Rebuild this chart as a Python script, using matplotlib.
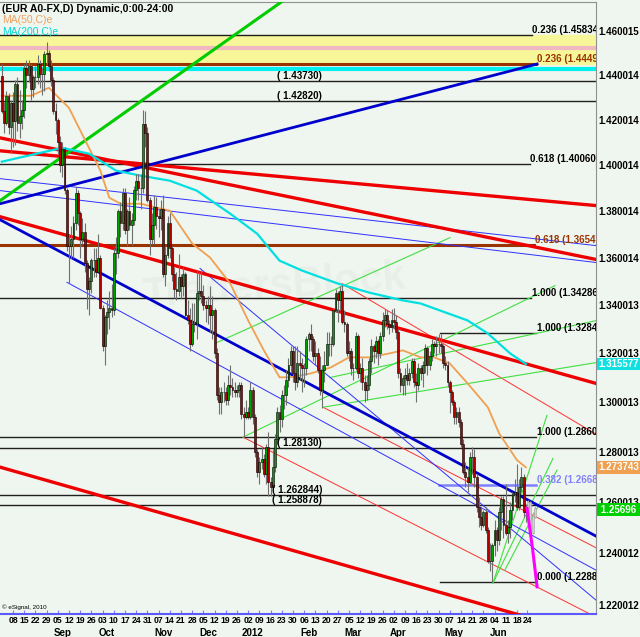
import numpy as np
import pandas as pd
import matplotlib
matplotlib.use('Agg')
import matplotlib.pyplot as plt
import matplotlib.transforms as mtransforms
from matplotlib.ticker import FixedLocator, NullLocator

plt.rcParams['font.family'] = ['Liberation Sans', 'DejaVu Sans']

# EUR/USD daily bars, one per weekday from 1 Aug 2011 to 22 Jun 2012
dates = pd.bdate_range('2011-08-01', '2012-06-22')
first_open = 1.4395
closes = [
    1.4240, 1.4185, 1.4305, 1.4168, 1.4275, 1.4195, 1.4362, 1.4185, 1.4218, 1.4242, 1.4431, 1.4399, 1.4442, 1.4339, 1.4390, 1.4393, 1.4450, 1.4404, 1.4404, 1.4496, 1.4500, 1.4441, 1.4377,
    1.4240, 1.4200, 1.4100, 1.4000, 1.4070, 1.3890, 1.3650, 1.3650, 1.3680, 1.3750, 1.3880, 1.3790, 1.3680, 1.3710, 1.3580, 1.3470, 1.3500, 1.3590, 1.3590, 1.3540, 1.3600, 1.3390,
    1.3230, 1.3350, 1.3370, 1.3390, 1.3380, 1.3620, 1.3620, 1.3800, 1.3750, 1.3880, 1.3720, 1.3800, 1.3740, 1.3760, 1.3890, 1.3930, 1.3900, 1.3900, 1.4180, 1.4140, 1.3850,
    1.3680, 1.3740, 1.3820, 1.3780, 1.3770, 1.3810, 1.3530, 1.3610, 1.3750, 1.3640, 1.3530, 1.3470, 1.3460, 1.3520, 1.3480, 1.3530, 1.3360, 1.3340, 1.3240, 1.3320, 1.3320, 1.3450,
    1.3460, 1.3440, 1.3400, 1.3390, 1.3400, 1.3360, 1.3380, 1.3200, 1.3030, 1.3000, 1.3040, 1.3040, 1.3010, 1.3070, 1.3060, 1.3050, 1.3040, 1.3050, 1.3070, 1.2950, 1.2940, 1.2960,
    1.2940, 1.3050, 1.2940, 1.2800, 1.2720, 1.2760, 1.2770, 1.2710, 1.2820, 1.2680, 1.2660, 1.2740, 1.2850, 1.2960, 1.2930, 1.3030, 1.3030, 1.3090, 1.3150, 1.3210, 1.3120, 1.3080,
    1.3160, 1.3150, 1.3140, 1.3140, 1.3260, 1.3280, 1.3260, 1.3190, 1.3200, 1.3130, 1.3050, 1.3130, 1.3150, 1.3240, 1.3240, 1.3240, 1.3380, 1.3450, 1.3420, 1.3460, 1.3330,
    1.3320, 1.3200, 1.3210, 1.3140, 1.3140, 1.3270, 1.3120, 1.3140, 1.3080, 1.3050, 1.3070, 1.3170, 1.3230, 1.3210, 1.3250, 1.3200, 1.3270, 1.3340, 1.3360, 1.3320, 1.3310, 1.3340,
    1.3330, 1.3290, 1.3120, 1.3070, 1.3100, 1.3110, 1.3090, 1.3120, 1.3170, 1.3080, 1.3070, 1.3140, 1.3120, 1.3150, 1.3220, 1.3150, 1.3190, 1.3240, 1.3230, 1.3240, 1.3240,
    1.3230, 1.3160, 1.3150, 1.3080, 1.3040, 1.3000, 1.2940, 1.2960, 1.2920, 1.2830, 1.2720, 1.2700, 1.2680, 1.2780, 1.2780, 1.2700, 1.2580, 1.2540, 1.2510, 1.2560, 1.2490, 1.2370, 1.2370,
    1.2430, 1.2490, 1.2450, 1.2560, 1.2610, 1.2510, 1.2480, 1.2500, 1.2570, 1.2630, 1.2640, 1.2580, 1.2660, 1.2700, 1.2560, 1.25696,
]
highs = [
    1.4450, 1.4280, 1.4330, 1.4320, 1.4290, 1.4325, 1.4380, 1.4390, 1.4335, 1.4290, 1.4450, 1.4470, 1.4470, 1.4450, 1.4400, 1.4440, 1.4490, 1.4470, 1.4430, 1.4510, 1.4548, 1.4515, 1.4470,
    1.4390, 1.4275, 1.4210, 1.4130, 1.4100, 1.4080, 1.3900, 1.3700, 1.3735, 1.3780, 1.3905, 1.3890, 1.3800, 1.3770, 1.3750, 1.3590, 1.3520, 1.3600, 1.3640, 1.3640, 1.3700, 1.3610,
    1.3400, 1.3360, 1.3420, 1.3460, 1.3490, 1.3640, 1.3690, 1.3810, 1.3840, 1.3900, 1.3900, 1.3810, 1.3860, 1.3790, 1.3910, 1.3960, 1.3960, 1.3960, 1.4245, 1.4240, 1.4170,
    1.3860, 1.3790, 1.3870, 1.3860, 1.3810, 1.3850, 1.3870, 1.3650, 1.3780, 1.3790, 1.3650, 1.3560, 1.3540, 1.3615, 1.3530, 1.3560, 1.3540, 1.3420, 1.3390, 1.3410, 1.3410, 1.3550,
    1.3540, 1.3550, 1.3485, 1.3420, 1.3440, 1.3480, 1.3440, 1.3390, 1.3220, 1.3060, 1.3060, 1.3080, 1.3060, 1.3110, 1.3150, 1.3100, 1.3080, 1.3070, 1.3080, 1.3080, 1.2980, 1.3010,
    1.2980, 1.3080, 1.3060, 1.2950, 1.2810, 1.2780, 1.2820, 1.2790, 1.2830, 1.2880, 1.2700, 1.2810, 1.2870, 1.2980, 1.2990, 1.3050, 1.3070, 1.3130, 1.3180, 1.3230, 1.3230, 1.3230,
    1.3230, 1.3210, 1.3180, 1.3160, 1.3270, 1.3290, 1.3320, 1.3270, 1.3250, 1.3220, 1.3190, 1.3150, 1.3210, 1.3290, 1.3290, 1.3270, 1.3390, 1.3470, 1.3460, 1.3480, 1.3485,
    1.3380, 1.3330, 1.3250, 1.3220, 1.3160, 1.3290, 1.3280, 1.3160, 1.3180, 1.3110, 1.3110, 1.3180, 1.3260, 1.3240, 1.3270, 1.3260, 1.3290, 1.3370, 1.3385, 1.3380, 1.3340, 1.3385,
    1.3390, 1.3360, 1.3300, 1.3140, 1.3110, 1.3140, 1.3160, 1.3140, 1.3180, 1.3180, 1.3120, 1.3160, 1.3150, 1.3170, 1.3240, 1.3230, 1.3210, 1.3260, 1.3250, 1.3270, 1.3280,
    1.3280, 1.3240, 1.3190, 1.3170, 1.3090, 1.3050, 1.3010, 1.2980, 1.2980, 1.2930, 1.2850, 1.2760, 1.2740, 1.2800, 1.2820, 1.2810, 1.2710, 1.2620, 1.2580, 1.2570, 1.2580, 1.2500, 1.2440,
    1.2440, 1.2530, 1.2500, 1.2580, 1.2625, 1.2625, 1.2670, 1.2530, 1.2600, 1.2640, 1.2690, 1.2750, 1.2690, 1.2740, 1.2710, 1.2590,
]
lows = [
    1.4230, 1.4140, 1.4175, 1.4135, 1.4053, 1.4080, 1.4090, 1.4150, 1.4120, 1.4160, 1.4210, 1.4340, 1.4370, 1.4290, 1.4300, 1.4340, 1.4360, 1.4340, 1.4310, 1.4330, 1.4450, 1.4420, 1.4350,
    1.4225, 1.4135, 1.4050, 1.3970, 1.3950, 1.3875, 1.3630, 1.3495, 1.3600, 1.3600, 1.3720, 1.3740, 1.3600, 1.3660, 1.3540, 1.3385, 1.3360, 1.3450, 1.3520, 1.3520, 1.3540, 1.3385,
    1.3210, 1.3150, 1.3280, 1.3300, 1.3350, 1.3360, 1.3530, 1.3600, 1.3690, 1.3720, 1.3700, 1.3650, 1.3720, 1.3655, 1.3740, 1.3850, 1.3850, 1.3810, 1.3880, 1.4080, 1.3840,
    1.3610, 1.3660, 1.3660, 1.3725, 1.3690, 1.3720, 1.3520, 1.3480, 1.3600, 1.3600, 1.3500, 1.3430, 1.3420, 1.3440, 1.3430, 1.3440, 1.3350, 1.3320, 1.3210, 1.3230, 1.3290, 1.3260,
    1.3420, 1.3410, 1.3380, 1.3330, 1.3320, 1.3290, 1.3260, 1.3180, 1.3010, 1.2950, 1.2950, 1.3000, 1.2990, 1.2990, 1.3030, 1.3020, 1.3020, 1.3020, 1.3020, 1.2930, 1.2860, 1.2930,
    1.2930, 1.2930, 1.2910, 1.2780, 1.2700, 1.2670, 1.2730, 1.2700, 1.2670, 1.2625, 1.2625, 1.2640, 1.2720, 1.2830, 1.2880, 1.2900, 1.2970, 1.2990, 1.3060, 1.3120, 1.3080, 1.3050,
    1.3060, 1.3090, 1.3040, 1.3060, 1.3110, 1.3210, 1.3210, 1.3170, 1.3150, 1.3120, 1.3030, 1.2975, 1.3080, 1.3150, 1.3190, 1.3190, 1.3230, 1.3370, 1.3330, 1.3380, 1.3320,
    1.3290, 1.3190, 1.3170, 1.3110, 1.3090, 1.3130, 1.3100, 1.3080, 1.3050, 1.3000, 1.3010, 1.3050, 1.3120, 1.3160, 1.3180, 1.3150, 1.3180, 1.3250, 1.3310, 1.3300, 1.3280, 1.3290,
    1.3300, 1.3260, 1.3100, 1.3040, 1.3030, 1.3030, 1.3070, 1.3070, 1.3100, 1.3060, 1.3000, 1.3050, 1.3090, 1.3060, 1.3120, 1.3110, 1.3130, 1.3170, 1.3200, 1.3190, 1.3200,
    1.3200, 1.3140, 1.3130, 1.3060, 1.2955, 1.2990, 1.2910, 1.2910, 1.2900, 1.2820, 1.2710, 1.2660, 1.2640, 1.2670, 1.2710, 1.2660, 1.2560, 1.2500, 1.2490, 1.2500, 1.2480, 1.2360, 1.2330,
    1.2288, 1.2390, 1.2410, 1.2430, 1.2490, 1.2460, 1.2470, 1.2440, 1.2460, 1.2530, 1.2600, 1.2570, 1.2570, 1.2640, 1.2540, 1.2520,
]

# projected (grey) bars and the magenta forecast path after the last bar
proj_days = [235, 236, 237, 238]
proj_open = [1.2575, 1.2600, 1.2480, 1.2540]
proj_close = [1.2600, 1.2480, 1.2545, 1.2575]
proj_high = [1.2608, 1.2605, 1.2560, 1.2585]
proj_low = [1.2570, 1.2476, 1.2475, 1.2535]
fc_days = [234.5, 237.0, 239.0]
fc_price = [1.2575, 1.2415, 1.2270]

# moving averages (trading-day index, price)
ma50_days = [0, 13, 21, 30, 38, 44, 48, 53, 62, 75, 85, 93, 102, 110, 117, 124, 129, 138, 147, 155, 164, 173, 179, 187, 193, 200, 208, 217, 222, 230, 234]
ma50_vals = [1.4307, 1.4307, 1.4343, 1.4253, 1.4094, 1.3976, 1.3858, 1.3832, 1.3832, 1.3802, 1.3661, 1.3601, 1.3491, 1.3336, 1.3212, 1.3101, 1.3101, 1.3117,
             1.3142, 1.3183, 1.3183, 1.3199, 1.3212, 1.3183, 1.3183, 1.3158, 1.3076, 1.2979, 1.2874, 1.2766, 1.27374]
ma200_days = [0, 27, 39, 51, 62, 75, 87, 102, 114, 124, 134, 150, 164, 179, 187, 208, 217, 227, 234]
ma200_vals = [1.4015, 1.4076, 1.4050, 1.3976, 1.3954, 1.3932, 1.3889, 1.3789, 1.3703, 1.3588, 1.3546, 1.3491, 1.3453, 1.3420, 1.3407, 1.3336, 1.3282, 1.3199, 1.315577]

# trendlines: (day0, price0, day1, price1)
red_thick = [(-0.8, 1.4063, 265.3, 1.3824), (-0.8, 1.4120, 265.3, 1.3593),
             (-0.8, 1.3776, 265.3, 1.3076), (-0.8, 1.2738, 231.3, 1.2162)]
blue_thick = [(-0.8, 1.3832, 239.0, 1.4450), (-0.8, 1.3763, 265.3, 1.2466)]
green_thick = [(-0.8, 1.3845, 133.0, 1.4793)]
blue_thin = [(-0.8, 1.3941, 265.3, 1.3652), (-0.8, 1.3889, 265.3, 1.3580),
             (88.5, 1.3555, 265.3, 1.2219), (29.1, 1.3496, 265.3, 1.2334)]
red_thin = [(151.9, 1.3491, 265.3, 1.2870), (143.4, 1.2979, 265.7, 1.2419),
            (107.7, 1.2858, 262.6, 1.2166)]
green_thin = [(95.3, 1.3241, 200.1, 1.3686), (107.7, 1.2858, 247.0, 1.3482),
              (143.4, 1.2979, 265.7, 1.3162), (146.5, 1.3100, 265.7, 1.3336),
              (219.3, 1.2284, 243.4, 1.2946), (219.3, 1.2284, 246.1, 1.2773),
              (224.6, 1.2334, 247.9, 1.2726)]

# horizontal levels: price, day0, day1, colour, width, label, label day
levels = [
    (1.45834, -0.8, 236.7, '#202020', 1.0, '0.236 (1.45834)', 236.9),
    (1.4449, -0.8, 238.5, '#993300', 2.2, '0.236 (1.4449)', 239.0),
    (1.4373, -0.8, 265.3, '#202020', 1.0, '( 1.43730)', 122.9),
    (1.4282, -0.8, 265.3, '#202020', 1.0, '( 1.42820)', 122.9),
    (1.4006, -0.8, 235.8, '#202020', 1.0, '0.618 (1.40060)', 236.0),
    (1.3654, -0.8, 237.5, '#993300', 2.2, '0.618 (1.3654)', 238.0),
    (1.34286, -0.8, 236.5, '#202020', 1.0, '1.000 (1.34286)', 236.7),
    (1.3284, 195.6, 238.5, '#202020', 1.0, '1.000 (1.3284)', 239.0),
    (1.2860, -0.8, 238.5, '#202020', 1.0, '1.000 (1.2860)', 239.0),
    (1.2813, -0.8, 265.3, '#202020', 1.0, '( 1.28130)', 122.9),
    (1.2668, 195.2, 238.5, '#8080ff', 1.8, '0.382 (1.2668)', 239.0),
    (1.262844, -0.8, 265.3, '#202020', 1.0, '( 1.262844)', 120.6),
    (1.258878, -0.8, 265.3, '#202020', 1.0, '( 1.258878)', 120.6),
    (1.2288, 195.6, 238.5, '#202020', 1.0, '0.000 (1.2288)', 239.0),
]

right_ticks = [1.460015, 1.440014, 1.420014, 1.400014, 1.380014, 1.360014, 1.340013,
               1.320013, 1.300013, 1.280013, 1.260013, 1.240012, 1.220012]

bg = '#eff5ef'
fig = plt.figure(figsize=(6.40, 6.37), dpi=100, facecolor=bg)
ax = fig.add_axes([0, 23 / 637, 596 / 640, 612 / 637], facecolor=bg)
ax.set_yscale('log')
ax.set_xlim(-0.8, 265.3)
ax.set_ylim(1.2166, 1.4733)

# yellow band, pink and cyan stripes at the top
ax.axhspan(1.4449, 1.45834, color='#f7f79a', zorder=0)
ax.axhline(1.45206, color='#f0b8c0', lw=3, zorder=1)
ax.axhline(1.44256, color='#00f0f0', lw=3, zorder=1)

for p, d0, d1, col, lw, lab, ld in levels:
    ax.plot([d0, d1], [p, p], color=col, lw=lw, zorder=2)
    tcol = col if col != '#202020' else 'black'
    ax.text(ld, p, lab, color=tcol, fontsize=7, fontweight='bold', va='bottom', ha='left', clip_on=True, zorder=6)

for d0, p0, d1, p1 in red_thin:
    ax.plot([d0, d1], [p0, p1], color='#ff3030', lw=0.7, zorder=2)
for d0, p0, d1, p1 in green_thin:
    ax.plot([d0, d1], [p0, p1], color='#40e040', lw=0.8, zorder=2)
for d0, p0, d1, p1 in blue_thin:
    ax.plot([d0, d1], [p0, p1], color='#3030ff', lw=0.7, zorder=2)
for d0, p0, d1, p1 in red_thick:
    ax.plot([d0, d1], [p0, p1], color='#ee0000', lw=2.4, zorder=3)
for d0, p0, d1, p1 in blue_thick:
    ax.plot([d0, d1], [p0, p1], color='#0000cc', lw=2.0, zorder=3)
for d0, p0, d1, p1 in green_thick:
    ax.plot([d0, d1], [p0, p1], color='#00cc00', lw=2.2, zorder=3)

ax.plot(ma50_days, ma50_vals, color='#f0a050', lw=1.3, zorder=3)
ax.plot(ma200_days, ma200_vals, color='#00e0e0', lw=1.6, zorder=3)

# candlesticks
x = np.arange(len(dates))
closes = np.array(closes)
opens = np.concatenate([[first_open], closes[:-1]])
up = closes >= opens
ax.vlines(x, lows, highs, color='#707070', lw=0.8, zorder=4)
ax.bar(x[up], closes[up] - opens[up], bottom=opens[up], width=0.85, color='#00a000', edgecolor='black', lw=0.4, zorder=5)
ax.bar(x[~up], opens[~up] - closes[~up], bottom=closes[~up], width=0.85, color='#b00000', edgecolor='black', lw=0.4, zorder=5)

pd_ = np.array(proj_days)
po, pc = np.array(proj_open), np.array(proj_close)
ax.vlines(pd_, proj_low, proj_high, color='#b0b0b0', lw=0.8, zorder=4)
ax.bar(pd_, np.abs(pc - po), bottom=np.minimum(po, pc), width=0.85, color='#d0d0d0', edgecolor='#a0a0a0', lw=0.4, zorder=5)
ax.plot(fc_days, fc_price, color='#ff00ff', lw=2.2, zorder=6)

# watermark
ax.text(0.46, 0.535, 'TradersBlock', transform=ax.transAxes, fontsize=30, fontweight='bold',
        color='#dfe8df', alpha=0.4, rotation=4, ha='center', va='center', zorder=1)

# axes look
ax.spines['left'].set_visible(False)
ax.spines['top'].set_color('#909090')
ax.spines['right'].set_color('#909090')
ax.spines['bottom'].set_color('#5a5aff')
ax.spines['bottom'].set_linewidth(1.5)

ax.yaxis.set_major_locator(FixedLocator(right_ticks))
ax.yaxis.set_minor_locator(NullLocator())
ax.set_yticklabels([f'{v:.6f}' for v in right_ticks])
ax.yaxis.tick_right()
ax.tick_params(axis='y', length=0, pad=2, labelsize=7)
for t in ax.get_yticklabels():
    t.set_fontweight('bold')

mondays = [i for i, d in enumerate(dates) if d.weekday() == 0 and i >= 3]
day_labels = [dates[i].strftime('%d') for i in mondays]
mondays.append(234.6)
day_labels.append('24')
ax.xaxis.set_major_locator(FixedLocator(mondays))
ax.xaxis.set_minor_locator(NullLocator())
ax.set_xticklabels(day_labels)
ax.tick_params(axis='x', length=3, direction='in', color='#8080ff', pad=1.5, labelsize=6.2)
for t in ax.get_xticklabels():
    t.set_fontweight('bold')

# month names under the first Monday of each month
month_pos = []
month_lab = []
seen = set()
for i in mondays[:-1]:
    d = dates[i]
    if (d.year, d.month) not in seen:
        seen.add((d.year, d.month))
        if d.month != 8:
            month_pos.append(i + 2)
            month_lab.append('2012' if d.month == 1 else d.strftime('%b'))
tr = mtransforms.blended_transform_factory(ax.transData, fig.transFigure)
for mp, ml in zip(month_pos, month_lab):
    ax.text(mp, 9 / 637, ml, transform=tr, fontsize=7, fontweight='bold', ha='center', va='top')

# last-value boxes on the price scale
tr_y = mtransforms.blended_transform_factory(ax.transAxes, ax.transData)
for val, txt, col in [(1.315577, '1.315577', '#10e0e0'), (1.273743, '1.273743', '#f0a050'), (1.25696, ' 1.25696 ', '#00d000')]:
    ax.text(1.004, val, txt, transform=tr_y, fontsize=7, fontweight='bold', color='white', va='center', ha='left',
            bbox=dict(boxstyle='square,pad=0.15', fc=col, ec='none'), clip_on=False, zorder=10)

# header
ax.text(0.004, 0.997, '(EUR A0-FX,D) Dynamic,0:00-24:00', transform=ax.transAxes, fontsize=7.5, fontweight='bold', va='top')
ax.text(0.004, 0.978, 'MA(50,C)e', transform=ax.transAxes, fontsize=7.5, color='#f0a060', va='top')
ax.text(0.004, 0.959, 'MA(200,C)e', transform=ax.transAxes, fontsize=7.5, color='#00d8d8', va='top')
ax.text(0.004, 0.006, '\u00a9 eSignal, 2010', transform=ax.transAxes, fontsize=4.5, va='bottom')

fig.savefig('out.png', dpi=100, facecolor=bg)
